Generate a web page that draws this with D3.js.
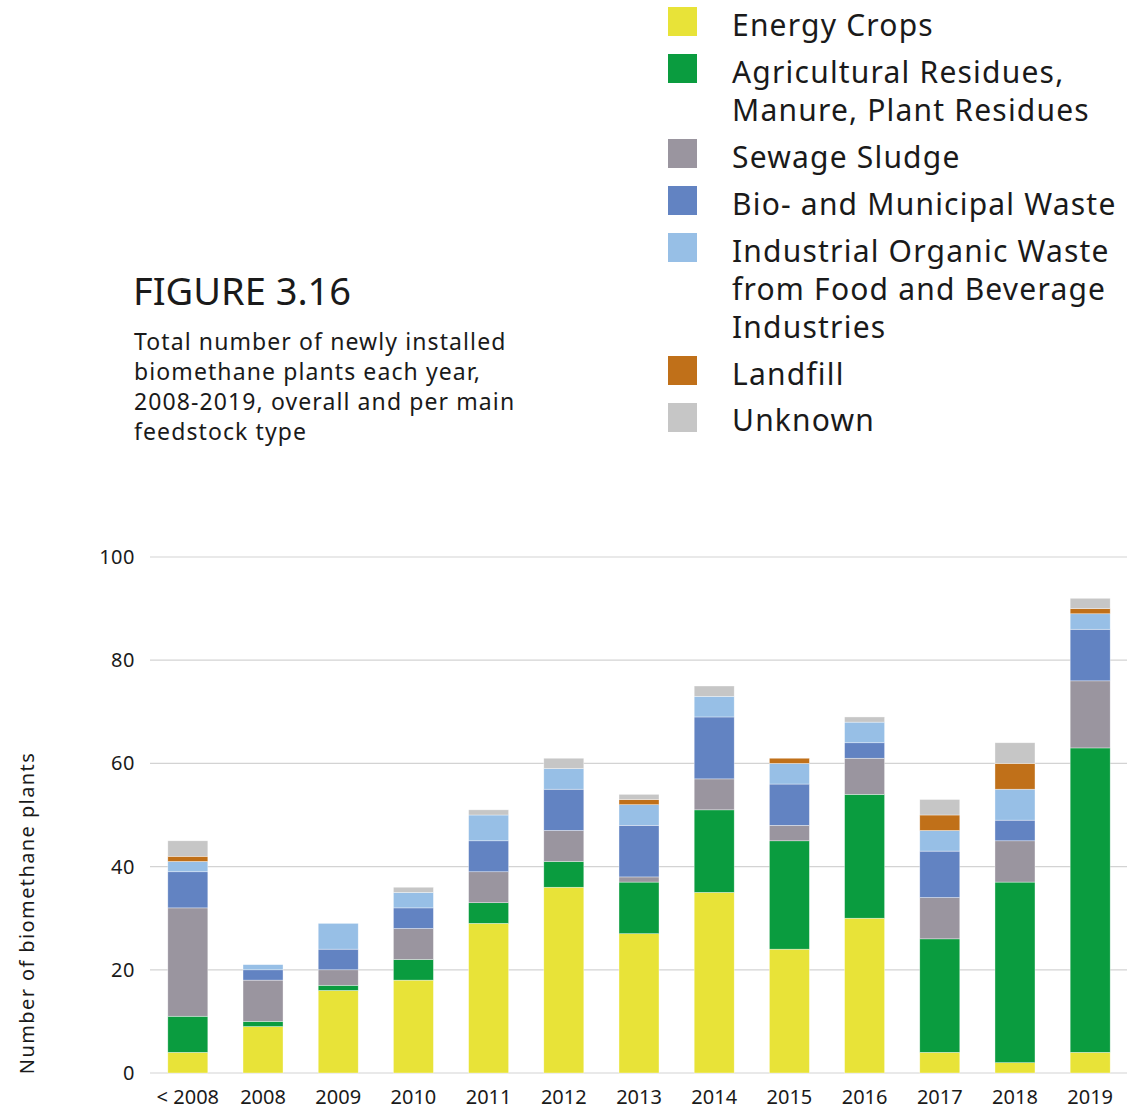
<!DOCTYPE html>
<html>
<head>
<meta charset="utf-8">
<script src="https://cdn.jsdelivr.net/npm/d3@7"></script>
<style>
  html, body { margin: 0; padding: 0; background: #fff; }
  svg { display: block; }
  text { font-family: "Noto Sans", "Open Sans", sans-serif; fill: #1a1a1a; }
</style>
</head>
<body>
<svg id="chart" width="1127" height="1110"></svg>
<script>
// ---- Data ----
const categories = ["< 2008", "2008", "2009", "2010", "2011", "2012", "2013", "2014", "2015", "2016", "2017", "2018", "2019"];
const seriesNames = [
  "Energy Crops",
  "Agricultural Residues, Manure, Plant Residues",
  "Sewage Sludge",
  "Bio- and Municipal Waste",
  "Industrial Organic Waste from Food and Beverage Industries",
  "Landfill",
  "Unknown"
];
const energyCrops      = [4, 9, 16, 18, 29, 36, 27, 35, 24, 30, 4, 2, 4];
const agricultural     = [7, 1, 1, 4, 4, 5, 10, 16, 21, 24, 22, 35, 59];
const sewageSludge     = [21, 8, 3, 6, 6, 6, 1, 6, 3, 7, 8, 8, 13];
const bioMunicipal     = [7, 2, 4, 4, 6, 8, 10, 12, 8, 3, 9, 4, 10];
const industrialWaste  = [2, 1, 5, 3, 5, 4, 4, 4, 4, 4, 4, 6, 3];
const landfill         = [1, 0, 0, 0, 0, 0, 1, 0, 1, 0, 3, 5, 1];
const unknown          = [3, 0, 0, 1, 1, 2, 1, 2, 0, 1, 3, 4, 2];
const yTicks = [0, 20, 40, 60, 80, 100];

const colors = ["#E8E338", "#0A9C3F", "#9A959F", "#6283C2", "#97BFE6", "#C07019", "#C6C6C6"];
const legendLines = [
  ["Energy Crops"],
  ["Agricultural Residues,", "Manure, Plant Residues"],
  ["Sewage Sludge"],
  ["Bio- and Municipal Waste"],
  ["Industrial Organic Waste", "from Food and Beverage", "Industries"],
  ["Landfill"],
  ["Unknown"]
];

// ---- Build table ----
const allSeries = [energyCrops, agricultural, sewageSludge, bioMunicipal, industrialWaste, landfill, unknown];
const keys = seriesNames;
const table = categories.map((c, i) => {
  const row = { cat: c };
  keys.forEach((k, j) => row[k] = allSeries[j][i]);
  return row;
});
const stacked = d3.stack().keys(keys)(table);

const svg = d3.select("#chart");

// ---- Scales ----
const x = d3.scaleBand().domain(categories).range([150, 1128]).paddingInner(0.468).paddingOuter(0.237);
const y = d3.scaleLinear().domain([0, 100]).range([1073, 557]);
const color = d3.scaleOrdinal().domain(keys).range(colors);

// ---- Grid ----
svg.append("g").selectAll("line").data(yTicks).join("line")
  .attr("x1", 150).attr("x2", 1127)
  .attr("y1", d => y(d)).attr("y2", d => y(d))
  .attr("stroke", "#d3d3d3").attr("stroke-width", 1.2);

// y axis labels
const yAxis = d3.axisLeft(y).tickValues(yTicks).tickSize(0).tickPadding(0);
const ya = svg.append("g").attr("transform", "translate(135,0)").call(yAxis);
ya.select(".domain").remove();
ya.selectAll("text").style("font-family", "'Noto Sans', sans-serif").style("font-size", "20px")
  .style("letter-spacing", "0.5px").attr("fill", "#1a1a1a").attr("dy", "0.32em");

// ---- Bars ----
svg.append("g").selectAll("g").data(stacked).join("g")
  .attr("fill", d => color(d.key))
  .selectAll("rect").data(d => d).join("rect")
  .attr("x", d => x(d.data.cat))
  .attr("width", x.bandwidth())
  .attr("y", d => y(d[1]))
  .attr("height", d => y(d[0]) - y(d[1]))
  .attr("stroke", "rgba(255,255,255,0.6)")
  .attr("stroke-width", 0.6);

// x axis labels
const xAxis = d3.axisBottom(x).tickSize(0).tickPadding(0);
const xa = svg.append("g").attr("transform", "translate(0,1098)").call(xAxis);
xa.select(".domain").remove();
xa.selectAll("text").style("font-family", "'Noto Sans', sans-serif").style("font-size", "20px")
  .attr("fill", "#1a1a1a").attr("dy", "0.3em");

// y axis title
svg.append("text")
  .attr("transform", "translate(34,913) rotate(-90)")
  .attr("text-anchor", "middle")
  .style("font-size", "20px")
  .style("letter-spacing", "1.4px")
  .text("Number of biomethane plants");

// ---- Title ----
svg.append("text").attr("x", 133).attr("y", 305).style("font-size", "38px").text("FIGURE 3.16");
const sub = ["Total number of newly installed", "biomethane plants each year,", "2008-2019, overall and per main", "feedstock type"];
svg.append("g").selectAll("text").data(sub).join("text")
  .attr("x", 134).attr("y", (d, i) => 350 + i * 30)
  .style("font-size", "23px").style("letter-spacing", "1.1px").text(d => d);

// ---- Legend ----
const swatchY = [7, 54, 139, 186, 233, 356, 403];
const textBase = [[36], [83, 121], [168], [215], [262, 300, 338], [385], [431]];
const lg = svg.append("g");
keys.forEach((k, i) => {
  lg.append("rect").attr("x", 668).attr("y", swatchY[i]).attr("width", 29).attr("height", 29).attr("fill", color(k));
  legendLines[i].forEach((line, j) => {
    lg.append("text").attr("x", 732).attr("y", textBase[i][j])
      .style("font-size", "30px").style("letter-spacing", "1.2px").text(line);
  });
});
</script>
</body>
</html>
